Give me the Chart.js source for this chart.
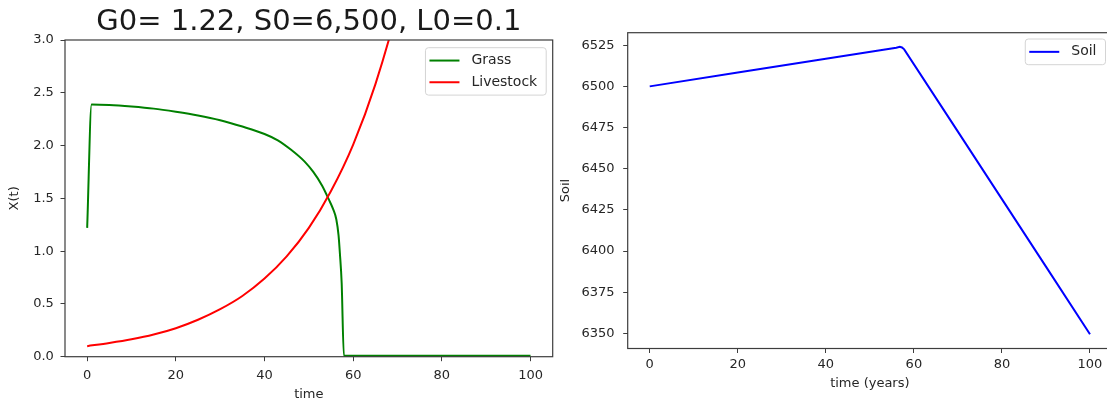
<!DOCTYPE html>
<html>
<head>
<meta charset="utf-8">
<script src="https://cdn.jsdelivr.net/npm/chart.js@4"></script>
<style>
  html, body { margin: 0; padding: 0; background: #fff; overflow: hidden; width: 1107px; height: 402px; }
  canvas { position: absolute; top: 0; }
  #grazingChart { left: 0; }
  #soilChart { left: 560px; }
</style>
</head>
<body>
<canvas id="grazingChart" width="560" height="402"></canvas>
<canvas id="soilChart" width="560" height="402"></canvas>
<script>
// model output, sampled from the simulation run
const grassTime  = [0, 1, 5, 10, 15, 20, 25, 30, 35, 40, 43, 46, 49, 51, 53, 54.5, 55.5, 56.2, 56.7, 57, 57.4, 57.9, 60, 70, 80, 90, 100];
const grassLevel = [1.22, 2.39, 2.385, 2.37, 2.35, 2.32, 2.285, 2.24, 2.18, 2.11, 2.05, 1.96, 1.85, 1.75, 1.62, 1.49, 1.395, 1.30, 1.15, 0.98, 0.70, 0.01, 0.01, 0.01, 0.01, 0.01, 0.01];

const livestockTime  = [0, 5, 10, 15, 20, 25, 30, 35, 40, 45, 50, 55, 60, 65, 70, 75];
const livestockLevel = [0.10, 0.13, 0.165, 0.21, 0.27, 0.35, 0.45, 0.575, 0.74, 0.95, 1.22, 1.57, 2.01, 2.58, 3.31, 4.25];

const soilTime  = [0, 20, 40, 56, 56.8, 57.3, 57.8, 70, 80, 90, 100];
const soilLevel = [6500, 6508.4, 6516.8, 6523.5, 6524, 6523.6, 6522.5, 6472.5, 6431.5, 6390.5, 6349.5];

const timeTicks  = [0, 20, 40, 60, 80, 100];
const xtTicks    = [0, 0.5, 1.0, 1.5, 2.0, 2.5, 3.0];
const soilTicks  = [6350, 6375, 6400, 6425, 6450, 6475, 6500, 6525];

const titleText = 'G0= 1.22, S0=6,500, L0=0.1';

Chart.defaults.font.family = '"DejaVu Sans", sans-serif';
Chart.defaults.font.size = 13;
Chart.defaults.color = '#262626';

const pts = (xs, ys) => xs.map((x, i) => ({ x, y: ys[i] }));

// box around the plot area, like matplotlib spines
const axesFrame = {
  id: 'axesFrame',
  afterDatasetsDraw(chart) {
    const { ctx, chartArea: a } = chart;
    ctx.save();
    ctx.strokeStyle = '#3d3d3d';
    ctx.lineWidth = 1.2;
    ctx.strokeRect(a.left, a.top, a.right - a.left, a.bottom - a.top);
    ctx.restore();
  }
};

// legend in a rounded box at the upper right of the plot area
const boxLegend = {
  id: 'boxLegend',
  afterDraw(chart, args, o) {
    const { ctx, chartArea: a } = chart;
    const sets = chart.data.datasets;
    ctx.save();
    ctx.font = '14px "DejaVu Sans"';
    const textW = Math.max(...sets.map(d => ctx.measureText(d.label).width));
    const w = 46 + textW + 9;
    const h = 4 + sets.length * 21.7;
    const x = a.right - 6.5 - w;
    const y = a.top + o.insetTop;
    ctx.beginPath();
    ctx.roundRect(x, y, w, h, 3);
    ctx.fillStyle = 'rgba(255,255,255,0.85)';
    ctx.fill();
    ctx.strokeStyle = '#d4d4d4';
    ctx.lineWidth = 1;
    ctx.stroke();
    sets.forEach((d, i) => {
      const cy = y + 2 + 21.7 * (i + 0.5);
      ctx.strokeStyle = d.borderColor;
      ctx.lineWidth = d.borderWidth;
      ctx.beginPath();
      ctx.moveTo(x + 4, cy);
      ctx.lineTo(x + 34, cy);
      ctx.stroke();
      ctx.fillStyle = '#262626';
      ctx.textBaseline = 'middle';
      ctx.fillText(d.label, x + 46, cy);
    });
    ctx.restore();
  }
};

function fixedTicks(values) {
  return scale => { scale.ticks = values.map(v => ({ value: v })); };
}

function tickGrid() {
  return { drawOnChartArea: false, drawTicks: true, tickLength: 4.5, color: '#3d3d3d', lineWidth: 1 };
}

new Chart(document.getElementById('grazingChart'), {
  type: 'line',
  data: {
    datasets: [{
      label: 'Grass',
      data: pts(grassTime, grassLevel),
      borderColor: '#008000',
      borderWidth: 2,
      cubicInterpolationMode: 'monotone',
      order: 1,
      clip: 5
    }, {
      label: 'Livestock',
      data: pts(livestockTime, livestockLevel),
      borderColor: '#ff0000',
      borderWidth: 2,
      cubicInterpolationMode: 'monotone',
      order: 0
    }]
  },
  options: {
    responsive: false,
    animation: false,
    devicePixelRatio: 1,
    parsing: false,
    elements: { point: { radius: 0 } },
    layout: { padding: { left: 0, right: 7.3, top: 0, bottom: 0 } },
    scales: {
      x: {
        type: 'linear',
        min: -5,
        max: 105,
        afterBuildTicks: fixedTicks(timeTicks),
        afterFit: s => { s.height = 45.3; },
        ticks: { padding: 6.6, maxRotation: 0 },
        grid: tickGrid(),
        border: { display: false },
        title: { display: true, text: 'time', padding: 0 }
      },
      y: {
        type: 'linear',
        min: 0,
        max: 3,
        afterBuildTicks: fixedTicks(xtTicks),
        afterFit: s => { s.width = 65; },
        ticks: { padding: 6.7, callback: v => v.toFixed(1) },
        grid: tickGrid(),
        border: { display: false },
        title: { display: true, text: 'X(t)', padding: { top: 7.2, bottom: 0 } }
      }
    },
    plugins: {
      legend: { display: false },
      tooltip: { enabled: false },
      title: {
        display: true,
        text: titleText,
        fullSize: false,
        color: '#1a1a1a',
        font: { size: 29, weight: 'normal' },
        padding: { top: 4.6, bottom: 0.6 }
      },
      boxLegend: { insetTop: 7.7 }
    }
  },
  plugins: [axesFrame, boxLegend]
});

new Chart(document.getElementById('soilChart'), {
  type: 'line',
  data: {
    datasets: [{
      label: 'Soil',
      data: pts(soilTime, soilLevel),
      borderColor: '#0000ff',
      borderWidth: 2,
      clip: 5
    }]
  },
  options: {
    responsive: false,
    animation: false,
    devicePixelRatio: 1,
    parsing: false,
    elements: { point: { radius: 0 } },
    layout: { padding: { left: 0, right: 8, top: 32.7, bottom: 0 } },
    scales: {
      x: {
        type: 'linear',
        min: -5,
        max: 105,
        afterBuildTicks: fixedTicks(timeTicks),
        afterFit: s => { s.height = 53.5; },
        ticks: { padding: 3.8, maxRotation: 0 },
        grid: tickGrid(),
        border: { display: false },
        title: { display: true, text: 'time (years)', padding: { top: 0, bottom: 10.2 } }
      },
      y: {
        type: 'linear',
        min: 6340.8,
        max: 6532.6,
        afterBuildTicks: fixedTicks(soilTicks),
        afterFit: s => { s.width = 67.7; },
        ticks: { padding: 8.7, callback: v => String(v) },
        grid: tickGrid(),
        border: { display: false },
        title: { display: true, text: 'Soil', padding: { top: -1.8, bottom: 0 } }
      }
    },
    plugins: {
      legend: { display: false },
      tooltip: { enabled: false },
      boxLegend: { insetTop: 6.3 }
    }
  },
  plugins: [axesFrame, boxLegend]
});
</script>
</body>
</html>
